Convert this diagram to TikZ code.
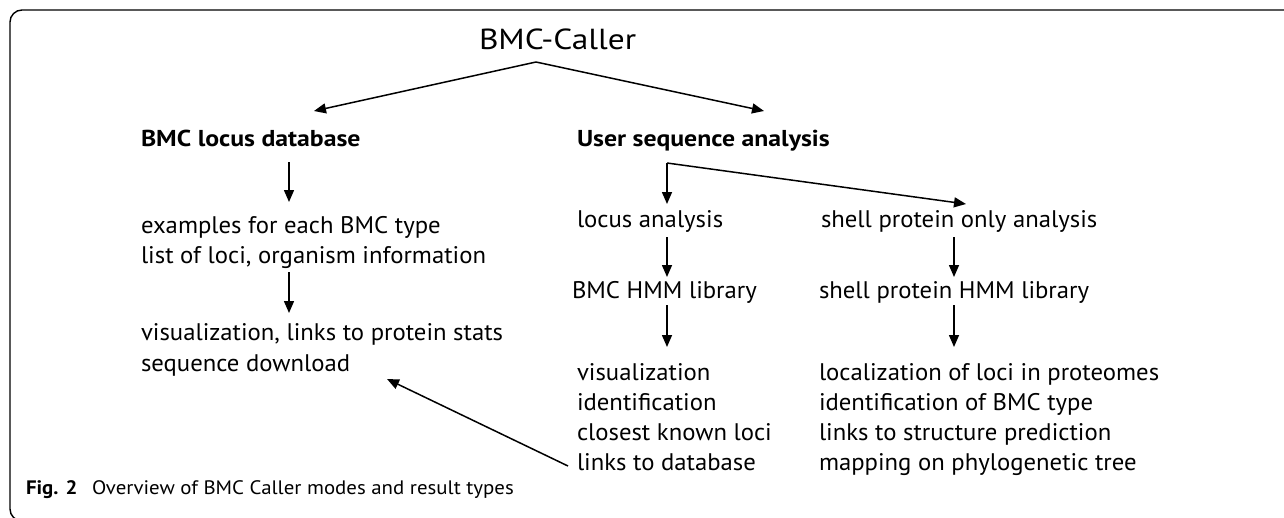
\documentclass[tikz,border=0pt]{standalone}
\usepackage{fontspec}
\setmainfont[FakeStretch=1.03]{PT Sans}
\newfontfamily\callerfont[FakeStretch=1.15]{PT Sans}
\newfontfamily\headfont[FakeStretch=1.12]{PT Sans}
\newfontfamily\capfont[FakeStretch=1.07]{PT Sans}
\usetikzlibrary{arrows.meta}
\begin{document}
\begin{tikzpicture}[x=1pt,y=-1pt,
  txt/.style={anchor=base west,inner sep=0pt,outer sep=0pt,font=\fontsize{24}{30}\selectfont},
  head/.style={txt,font=\headfont\fontsize{23}{30}\selectfont\bfseries},
  arr/.style={line width=1.5pt,-{Triangle[length=12pt,width=10pt]}},
  frame/.style={line width=1.4pt,rounded corners=12pt}]
\useasboundingbox (0,0) rectangle (1284,517);
\clip (0,0) rectangle (1284,517);
\draw[frame] (1300,10) -- (10,10) -- (10,521) -- (200,521);
% texts
\node[txt,font=\callerfont\fontsize{29}{34}\selectfont] (caller) at (479,49) {BMC-Caller};
\node[head] (db) at (141,146) {BMC locus database};
\node[head] (usa) at (577,146) {User sequence analysis};
\node[txt] (ex1) at (141,233) {examples for each BMC type};
\node[txt] (ex2) at (141,263) {list of loci, organism information};
\node[txt] (vis1) at (141,340) {visualization, links to protein stats};
\node[txt] (vis2) at (141,371) {sequence download};
\node[txt] (locus) at (577,227) {locus analysis};
\node[txt] (shell) at (821,227) {shell protein only analysis};
\node[txt] (hmm) at (572,298) {BMC HMM library};
\node[txt] (shmm) at (819,298) {shell protein HMM library};
\node[txt] (r1) at (577,380) {visualization};
\node[txt] (r2) at (577,410) {identification};
\node[txt] (r3) at (577,440) {closest known loci};
\node[txt] (r4) at (577,470) {links to database};
\node[txt] (s1) at (819,380) {localization of loci in proteomes};
\node[txt] (s2) at (819,410) {identification of BMC type};
\node[txt] (s3) at (819,440) {links to structure prediction};
\node[txt] (s4) at (819,470) {mapping on phylogenetic tree};
\node[txt,font=\capfont\fontsize{19.5}{22}\selectfont] (cap) at (26,494) {\textbf{Fig. 2}\hspace{0.75em}Overview of BMC Caller modes and result types};
% connector points
\coordinate (apex) at (536,62);
\coordinate (dbtip) at (314,111);
\coordinate (usatip) at (764,111);
\coordinate (dbA) at (289,162);
\coordinate (exA) at (289,202);
\coordinate (exB) at (289,272);
\coordinate (visA) at (289,313);
\coordinate (br) at (667,163);
\coordinate (locA) at (667,204);
\coordinate (shA) at (966,204);
\coordinate (locB) at (667,237);
\coordinate (hmmA) at (667,277);
\coordinate (hmmB) at (667,305);
\coordinate (r1A) at (667,347);
\coordinate (shB) at (954,237);
\coordinate (shmmA) at (954,277);
\coordinate (shmmB) at (954,305);
\coordinate (s1A) at (954,347);
\coordinate (r4A) at (568,466);
\coordinate (vis2A) at (387,379);
% connectors
\draw[arr] (apex) -- (dbtip);
\draw[arr] (apex) -- (usatip);
\draw[arr] (dbA) -- (exA);
\draw[arr] (exB) -- (visA);
\draw[arr] (br) -- (locA);
\draw[arr] (br) -- (shA);
\draw[arr] (locB) -- (hmmA);
\draw[arr] (hmmB) -- (r1A);
\draw[arr] (shB) -- (shmmA);
\draw[arr] (shmmB) -- (s1A);
\draw[arr] (r4A) -- (vis2A);
\end{tikzpicture}
\end{document}
